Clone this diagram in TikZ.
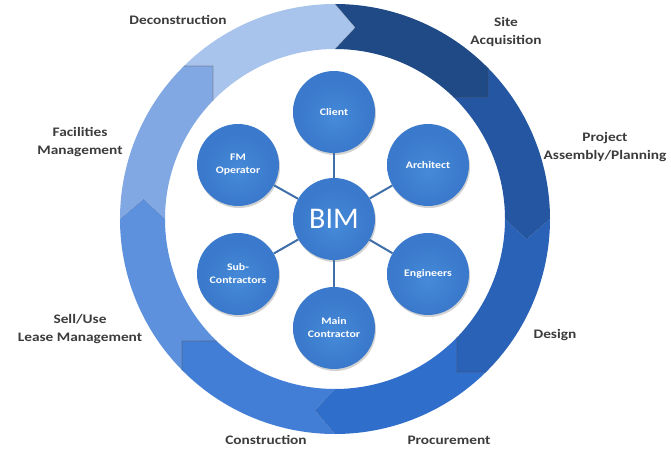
\documentclass[tikz,border=0pt]{standalone}
\usepackage{fontspec}
\setmainfont{Carlito}
\newfontfamily\lblfont[FakeStretch=1.18]{Carlito}
\usetikzlibrary{shadows}
\definecolor{cSite}{HTML}{1F4A86}
\definecolor{cProj}{HTML}{2456A2}
\definecolor{cDesign}{HTML}{2962B7}
\definecolor{cProc}{HTML}{306ECC}
\definecolor{cConstr}{HTML}{437ED6}
\definecolor{cSell}{HTML}{5D91DD}
\definecolor{cFacil}{HTML}{82A8E3}
\definecolor{cDecon}{HTML}{A8C4EC}
\definecolor{labelgray}{HTML}{3C3C3C}
\definecolor{circIn}{HTML}{468AD9}
\definecolor{circMid}{HTML}{3A79CB}
\definecolor{circOut}{HTML}{2C62AE}
\definecolor{linkblue}{HTML}{3F6FA9}
\pgfdeclareradialshading{actorshade}{\pgfpoint{0bp}{-4bp}}{%
  color(0bp)=(circIn); color(22bp)=(circMid); color(40bp)=(circMid); color(50bp)=(circOut)}
\newcommand{\ringquad}[3]{%
  \begin{scope}[rotate=#1]
    \fill[#2] (90:215) arc[start angle=90,end angle=44.6,radius=215] -- (153,122)
      -- (45.86:170) arc[start angle=45.86,end angle=90,radius=170] -- (84:192.5) -- cycle;
    \fill[#3] (44.6:215) arc[start angle=44.6,end angle=0,radius=215] -- (-6:192.5)
      -- (0:170) arc[start angle=0,end angle=45.86,radius=170] -- (153,122) -- cycle;
    \draw[segedge] (45.86:170) -- (153,122) -- (44.6:215);
    \draw[segedge,opacity=0.25] (0:215) -- (-6:192.5) -- (0:170);
  \end{scope}}
\begin{document}
\begin{tikzpicture}[x=1pt,y=1pt,
  segedge/.style={draw=black!70,line width=0.7pt,opacity=0.45},
  ringlabel/.style={font=\lblfont\fontsize{13}{18}\selectfont\bfseries,text=labelgray,align=center,inner sep=0pt},
  actor/.style={circle,minimum size=82pt,inner sep=0pt,shading=actorshade,
    drop shadow={opacity=0.35,shadow xshift=1pt,shadow yshift=-2pt},
    text=white,align=center,font=\lblfont\fontsize{10}{13}\selectfont\bfseries},
  link/.style={draw=linkblue,line width=2pt}]
\useasboundingbox[fill=white] (-335,-233) rectangle (336,219);
% outer cycle ring
\ringquad{0}{cSite}{cProj}
\ringquad{-90}{cDesign}{cProc}
\ringquad{-180}{cConstr}{cSell}
\ringquad{-270}{cFacil}{cDecon}
% ring labels
\node[ringlabel] (lDecon) at (-157,199) {Deconstruction};
\node[ringlabel] (lSite) at (171,187) {Site\\Acquisition};
\node[ringlabel] (lProj) at (270,72) {Project\\Assembly/Planning};
\node[ringlabel] (lDesign) at (220,-116) {Design};
\node[ringlabel] (lProc) at (114,-221) {Procurement};
\node[ringlabel] (lConstr) at (-69,-221) {Construction};
\node[ringlabel] (lSell) at (-255,-110) {Sell/Use\\Lease Management};
\node[ringlabel] (lFacil) at (-255,77) {Facilities\\Management};
% hub and actors
\node[actor] (client) at (-1,107) {Client};
\node[actor] (arch) at (93,54) {Architect};
\node[actor] (eng) at (93,-55) {Engineers};
\node[actor] (main) at (-1,-109) {Main\\Contractor};
\node[actor] (sub) at (-97,-55) {Sub-\\Contractors};
\node[actor] (fm) at (-97,54) {FM\\Operator};
\node[actor,font=\fontsize{30}{30}\selectfont] (bim) at (-1,0) {BIM};
\foreach \t in {client,arch,eng,main,sub,fm}
  \draw[link] (bim) -- (\t);
\end{tikzpicture}
\end{document}
